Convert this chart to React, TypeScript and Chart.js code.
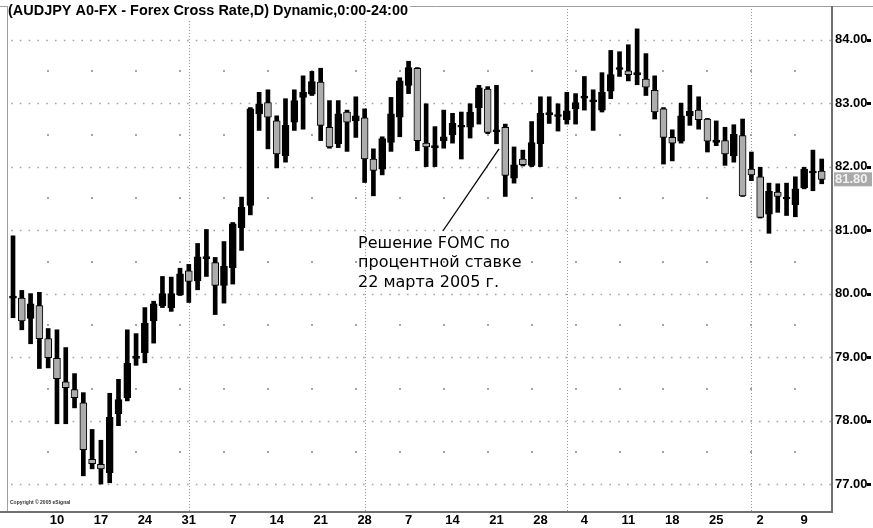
import { useEffect, useRef } from 'react';
import { Chart, registerables } from 'chart.js';

Chart.register(...registerables);

// Trading days (MM-DD, 2005)
const dates = [
  '01-03','01-04','01-05','01-06','01-07','01-10','01-11','01-12','01-13','01-14',
  '01-17','01-18','01-19','01-20','01-21','01-24','01-25','01-26','01-27','01-28','01-31',
  '02-01','02-02','02-03','02-04','02-07','02-08','02-09','02-10','02-11','02-14',
  '02-15','02-16','02-17','02-18','02-21','02-22','02-23','02-24','02-25','02-28',
  '03-01','03-02','03-03','03-04','03-07','03-08','03-09','03-10','03-11','03-14',
  '03-15','03-16','03-17','03-18','03-21','03-22','03-23','03-24','03-25','03-28',
  '03-29','03-30','03-31',
  '04-01','04-04','04-05','04-06','04-07','04-08','04-11','04-12','04-13','04-14',
  '04-15','04-18','04-19','04-20','04-21','04-22','04-25','04-26','04-27','04-28','04-29',
  '05-02','05-03','05-04','05-05','05-06','05-09','05-10','05-11'
];

const opens = [
  79.93,79.93,79.61,79.81,79.29,78.98,78.61,78.49,78.28,77.39,
  77.31,77.18,78.11,78.36,78.98,79.07,79.57,79.81,79.78,79.98,80.36,
  80.20,80.55,80.49,80.13,80.41,81.04,81.39,82.83,83.01,82.72,
  82.17,82.70,83.09,83.14,83.33,82.62,82.36,82.86,82.72,82.77,
  82.12,81.96,82.38,82.78,83.28,83.55,82.37,82.30,82.41,82.50,
  82.62,82.62,82.93,83.22,82.55,82.62,81.82,82.12,82.02,82.36,
  82.82,82.79,82.74,
  82.91,83.08,83.02,82.89,83.19,83.53,83.51,83.45,83.38,83.20,
  82.91,82.46,82.40,82.80,82.89,82.75,82.38,82.41,82.17,82.49,81.96,
  81.84,81.25,81.60,81.49,81.40,81.67,81.90,81.93
];

const highs = [
  80.91,80.05,80.00,80.02,79.45,79.43,79.15,78.74,78.44,77.86,
  77.69,78.43,78.65,79.43,79.37,79.78,79.88,80.27,80.26,80.40,80.46,
  80.79,81.01,80.57,80.82,81.12,81.52,82.93,83.17,83.21,82.80,
  83.07,83.21,83.43,83.50,83.55,83.04,83.04,82.89,83.10,82.91,
  82.28,82.47,83.09,83.40,83.66,83.56,82.99,82.63,82.89,82.84,
  82.86,82.99,83.28,83.26,83.28,82.67,82.31,82.26,82.71,83.10,
  83.10,82.99,83.17,
  83.15,83.42,83.21,83.48,83.83,83.81,83.92,84.17,83.78,83.43,
  82.93,82.58,83.00,83.28,83.10,82.76,82.72,82.62,82.66,82.75,82.23,
  81.99,81.74,81.73,81.74,81.84,81.99,82.26,82.12
];

const lows = [
  79.62,79.43,79.21,78.82,78.83,77.95,77.95,78.20,77.13,77.24,
  77.00,77.02,77.92,78.31,78.87,78.91,79.22,79.78,79.72,79.97,79.86,
  80.06,80.27,79.67,79.85,80.15,80.68,81.24,82.57,82.28,81.98,
  82.07,82.57,82.59,83.12,82.41,82.29,82.30,82.24,82.46,81.75,
  81.54,81.87,82.24,82.47,83.15,82.25,82.00,82.00,82.29,82.37,
  82.12,82.45,82.67,82.52,82.36,81.53,81.74,82.01,82.00,82.00,
  82.68,82.56,82.67,
  82.67,82.89,82.57,82.86,83.07,83.42,83.35,83.29,83.12,82.75,
  82.04,82.09,82.37,82.65,82.59,82.23,82.33,82.02,82.07,81.53,81.78,
  81.19,80.95,81.28,81.23,81.21,81.65,81.62,81.73
];

const closes = [
  79.95,79.57,79.84,79.29,78.99,78.66,78.52,78.36,77.54,77.32,
  77.24,78.05,78.33,78.90,79.00,79.53,79.84,80.00,80.00,80.31,80.19,
  80.58,80.57,80.13,80.43,81.10,81.36,82.91,82.99,82.78,82.20,
  82.65,83.04,83.17,83.34,82.65,82.31,82.83,82.70,82.80,82.12,
  81.94,82.44,82.83,83.35,83.56,82.41,82.31,82.32,82.47,82.68,
  82.64,82.86,83.24,82.54,82.58,81.86,82.03,82.03,82.38,82.84,
  82.84,82.81,82.88,
  83.01,83.10,83.04,83.17,83.45,83.55,83.45,83.47,83.25,82.86,
  82.46,82.37,82.80,82.87,82.74,82.40,82.42,82.20,82.51,81.54,81.87,
  81.20,81.61,81.53,81.51,81.65,81.96,81.92,81.80
];

const tickDates = [
  '01-10','01-17','01-24','01-31','02-07','02-14','02-21','02-28',
  '03-07','03-14','03-21','03-28','04-04','04-11','04-18','04-25','05-02','05-09'
];
const priceTicks = [77, 78, 79, 80, 81, 82, 83, 84];

const titleText = '(AUDJPY A0-FX - Forex Cross Rate,D) Dynamic,0:00-24:00';
const noteLines = ['Решение FOMC по', 'процентной ставке', '22 марта 2005 г.'];
const copyrightText = 'Copyright © 2005 eSignal';

// annotation anchors in data units (bar index, price)
const noteTextX = 39.25;
const noteTextY = [80.79, 80.49, 80.17];
const noteLineFrom = [48.92, 80.99];
const noteLineTo = [55.29, 82.28];

const idx = dates.map((_, i) => i);
const tickIdx = tickDates.map((d) => dates.indexOf(d));
const fridayIdx = tickIdx.map((i) => i - 1);
const monthEndIdx = idx.filter((i) => i < dates.length - 1 && dates[i].slice(0, 2) !== dates[i + 1].slice(0, 2));

const FONT = '"Liberation Sans", Arial, sans-serif';

const decor = {
  id: 'decor',
  beforeDraw(chart: any) {
    const { ctx, width, height } = chart;
    ctx.save();
    ctx.fillStyle = '#ffffff';
    ctx.fillRect(0, 0, width, height);
    ctx.restore();
  },
  beforeDatasetsDraw(chart: any) {
    const { ctx, chartArea: a } = chart;
    const x = chart.scales.x;
    const y = chart.scales.y;
    ctx.save();
    ctx.strokeStyle = '#a4a4a4';
    ctx.lineWidth = 1.6;
    ctx.setLineDash([1.6, 7.2]);
    priceTicks.forEach((v) => {
      const py = Math.round(y.getPixelForValue(v)) + 0.5;
      ctx.beginPath();
      ctx.moveTo(a.left + 3, py);
      ctx.lineTo(a.right, py);
      ctx.stroke();
    });
    ctx.setLineDash([]);
    ctx.fillStyle = '#a4a4a4';
    fridayIdx.forEach((i) => {
      const px = Math.round(x.getPixelForValue(i));
      priceTicks.forEach((v) => {
        const py = Math.round(y.getPixelForValue(v + 0.5));
        if (py > a.top + 2 && py < a.bottom - 2) ctx.fillRect(px - 1, py - 1, 2, 2);
      });
    });
    ctx.strokeStyle = '#999999';
    ctx.lineWidth = 1;
    ctx.setLineDash([1, 2]);
    monthEndIdx.forEach((i) => {
      const px = Math.round(x.getPixelForValue(i)) + 0.5;
      ctx.beginPath();
      ctx.moveTo(px, a.top);
      ctx.lineTo(px, a.bottom);
      ctx.stroke();
    });
    ctx.restore();
  },
  afterDraw(chart: any) {
    const { ctx, chartArea: a, width } = chart;
    const x = chart.scales.x;
    const y = chart.scales.y;
    ctx.save();
    // frame
    ctx.strokeStyle = '#a0a0a0';
    ctx.lineWidth = 1;
    ctx.beginPath();
    ctx.moveTo(0, a.top + 0.5);
    ctx.lineTo(width, a.top + 0.5);
    ctx.moveTo(a.left - 0.5, a.top);
    ctx.lineTo(a.left - 0.5, a.bottom);
    ctx.stroke();
    ctx.strokeStyle = '#707070';
    ctx.lineWidth = 2;
    ctx.beginPath();
    ctx.moveTo(0, a.bottom);
    ctx.lineTo(a.right + 1, a.bottom);
    ctx.moveTo(a.right, a.top);
    ctx.lineTo(a.right, a.bottom + 1);
    ctx.stroke();
    // right tick marks
    ctx.fillStyle = '#000';
    priceTicks.forEach((v) => {
      const py = Math.round(y.getPixelForValue(v));
      ctx.fillRect(a.right + 35, py - 1, 4, 3);
    });
    // current price box
    const last = closes[closes.length - 1];
    const lp = y.getPixelForValue(last);
    ctx.fillStyle = '#a9a9a9';
    ctx.fillRect(a.right + 2, lp - 7, 38, 14);
    ctx.fillStyle = '#f2f2f2';
    ctx.font = `bold 13px ${FONT}`;
    ctx.textBaseline = 'middle';
    ctx.textAlign = 'left';
    ctx.fillText(last.toFixed(2), a.right + 3, lp + 0.5);
    // title
    ctx.fillStyle = '#ffffff';
    ctx.fillRect(a.left, 0, 402, 20);
    ctx.fillStyle = '#000';
    ctx.font = `bold 14.5px ${FONT}`;
    ctx.textBaseline = 'middle';
    ctx.fillText(titleText, a.left, 10.5, 400);
    // annotation
    ctx.strokeStyle = '#000';
    ctx.lineWidth = 1.3;
    ctx.beginPath();
    ctx.moveTo(x.getPixelForValue(noteLineFrom[0]), y.getPixelForValue(noteLineFrom[1]));
    ctx.lineTo(x.getPixelForValue(noteLineTo[0]), y.getPixelForValue(noteLineTo[1]));
    ctx.stroke();
    ctx.font = '16px "DejaVu Sans", sans-serif';
    ctx.fillStyle = '#000';
    noteLines.forEach((t, k) => {
      ctx.fillText(t, x.getPixelForValue(noteTextX), y.getPixelForValue(noteTextY[k]));
    });
    // copyright
    ctx.font = `bold 5px ${FONT}`;
    ctx.fillStyle = '#333';
    ctx.fillText(copyrightText, a.left + 2, a.bottom - 9);
    ctx.restore();
  },
};

export default function App() {
  const ref = useRef<HTMLCanvasElement | null>(null);
  useEffect(() => {
    document.body.style.margin = '0';
    const canvas = ref.current;
    if (!canvas) return;
    const bodyColors = idx.map((i) => (closes[i] >= opens[i] ? '#000000' : '#adadad'));
    const chart = new Chart(canvas, {
      type: 'bar',
      data: {
        datasets: [
          {
            label: 'body',
            data: idx.map((i) => ({ x: i, y: [opens[i], closes[i]] })) as any,
            backgroundColor: bodyColors,
            borderColor: '#000000',
            borderWidth: 1,
            borderSkipped: false,
            barThickness: 7,
            minBarLength: 2,
            grouped: false,
            order: 1,
          } as any,
          {
            label: 'wick',
            data: idx.map((i) => ({ x: i, y: [lows[i], highs[i]] })) as any,
            backgroundColor: '#000000',
            borderWidth: 0,
            barThickness: 4,
            grouped: false,
            order: 2,
          } as any,
        ],
      },
      options: {
        animation: false,
        responsive: false,
        maintainAspectRatio: false,
        devicePixelRatio: 1,
        layout: { padding: { left: 8, top: 6, right: 0, bottom: 0 } },
        plugins: { legend: { display: false }, tooltip: { enabled: false }, title: { display: false } },
        scales: {
          x: {
            type: 'linear',
            offset: false,
            min: -0.57,
            max: 93.17,
            grid: { display: false, drawTicks: false },
            border: { display: false },
            afterBuildTicks: (s: any) => {
              s.ticks = tickIdx.map((v) => ({ value: v }));
            },
            afterFit: (s: any) => {
              s.height = 16;
              s.paddingLeft = 0;
              s.paddingRight = 0;
            },
            ticks: {
              autoSkip: false,
              maxRotation: 0,
              padding: 1,
              color: '#000',
              font: { family: FONT, size: 13, weight: 'bold' },
              callback: (v: any) => {
                const k = tickIdx.indexOf(Number(v));
                return k >= 0 ? String(Number(tickDates[k].slice(3))) : '';
              },
            },
          },
          y: {
            type: 'linear',
            position: 'right',
            min: 76.56,
            max: 84.53,
            grid: { display: false, drawTicks: false },
            border: { display: false },
            afterBuildTicks: (s: any) => {
              s.ticks = priceTicks.map((v) => ({ value: v }));
            },
            afterFit: (s: any) => {
              s.width = 41;
              s.paddingTop = 0;
              s.paddingBottom = 0;
            },
            ticks: {
              padding: 3,
              color: '#000',
              font: { family: FONT, size: 13, weight: 'bold' },
              callback: (v: any) => Number(v).toFixed(2),
            },
          },
        },
      } as any,
      plugins: [decor],
    });
    return () => chart.destroy();
  }, []);
  return (
    <div style={{ width: 873, height: 528 }}>
      <canvas ref={ref} width={873} height={528} style={{ display: 'block' }} />
    </div>
  );
}
